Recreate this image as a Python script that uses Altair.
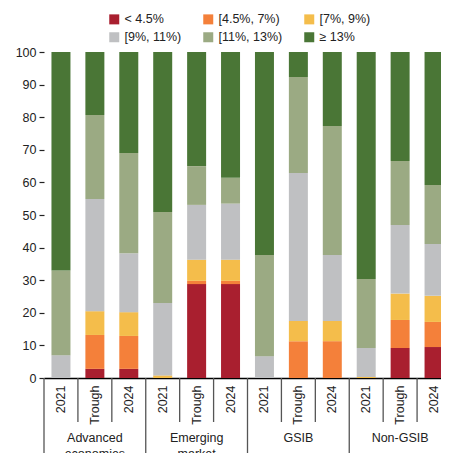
import altair as alt
import pandas as pd

FONT = "Liberation Sans, Arial, sans-serif"
FS = 12.5

groups = ["Advanced\neconomies", "Emerging\nmarket", "GSIB", "Non-GSIB"]
periods = ["2021", "Trough", "2024"]

categories = ["< 4.5%", "[4.5%, 7%)", "[7%, 9%)", "[9%, 11%)", "[11%, 13%)", "≥ 13%"]
colors = ["#a91f2f", "#f4803a", "#f4bd4b", "#bfc0c2", "#9baa83", "#4a7636"]

# values per bar, order: AE 2021, AE Trough, AE 2024, EM 2021, EM Trough, EM 2024,
# GSIB 2021, GSIB Trough, GSIB 2024, NonGSIB 2021, NonGSIB Trough, NonGSIB 2024
lt_4_5 = [0, 2.8, 2.8, 0, 28.8, 28.8, 0, 0, 0, 0, 9.2, 9.5]
r4_5_7 = [0, 10.4, 10.1, 0, 1.0, 1.0, 0, 11.3, 11.3, 0, 8.6, 7.7]
r7_9 = [0, 7.3, 7.3, 0.8, 6.5, 6.5, 0, 6.2, 6.2, 0.3, 8.1, 8.0]
r9_11 = [7.0, 34.4, 18.1, 22.2, 16.8, 17.2, 6.7, 45.4, 20.2, 8.9, 21.0, 15.9]
r11_13 = [26.0, 25.8, 30.7, 27.9, 11.9, 7.9, 31.0, 29.4, 39.6, 21.2, 19.7, 18.1]
ge_13 = [67.0, 19.3, 31.0, 49.1, 35.0, 38.6, 62.3, 7.7, 22.7, 69.6, 33.4, 40.8]
series = [lt_4_5, r4_5_7, r7_9, r9_11, r11_13, ge_13]

keys = [f"{g}|{p}" for g in groups for p in periods]

rows = []
for ci, (cat, vals) in enumerate(zip(categories, series)):
    for k, v in zip(keys, vals):
        rows.append({"key": k, "cat": cat, "order": ci, "value": v})
df = pd.DataFrame(rows)

xscale = alt.Scale(domain=keys, range=[0, 407], paddingInner=0, paddingOuter=0)

bars = alt.Chart(df).mark_bar(width=alt.RelativeBandSize(0.56)).encode(
    x=alt.X("key:N", scale=xscale,
            axis=alt.Axis(title=None, labelAngle=-90, ticks=False,
                          labelExpr="split(datum.label, '|')[1]",
                          labelPadding=7, labelFont=FONT, labelFontSize=FS,
                          labelColor="#222", domainColor="#000", domainWidth=1.5)),
    y=alt.Y("value:Q", stack="zero",
            scale=alt.Scale(domain=[0, 100], nice=False),
            axis=alt.Axis(title=None, values=list(range(0, 101, 10)), grid=False,
                          domain=False, tickSize=5, tickColor="#222", tickWidth=1.2,
                          labelFont=FONT, labelFontSize=FS, labelColor="#222",
                          labelPadding=3)),
    color=alt.Color("cat:N", scale=alt.Scale(domain=categories, range=colors),
                    legend=alt.Legend(title=None, orient="none", legendX=64, legendY=-39,
                                      columns=3, direction="horizontal",
                                      symbolType="square", symbolSize=100,
                                      symbolStrokeWidth=0, symbolOpacity=1,
                                      labelFont=FONT, labelFontSize=FS, labelColor="#222",
                                      labelOffset=4, columnPadding=20, rowPadding=5)),
    order=alt.Order("order:Q"),
)

short_df = pd.DataFrame({"key": [k for k in keys if not k.endswith("|2021")]})
long_df = pd.DataFrame({"key": [k for k in keys if k.endswith("|2021")]})

short_rules = alt.Chart(short_df).mark_rule(color="#555", strokeWidth=1.3).encode(
    x=alt.X("key:N", bandPosition=0),
    y=alt.value(326), y2=alt.value(370),
)
long_rules = alt.Chart(long_df).mark_rule(color="#555", strokeWidth=1.3).encode(
    x=alt.X("key:N", bandPosition=0),
    y=alt.value(326), y2=alt.value(420),
)

label_df = pd.DataFrame({"key": [f"{g}|Trough" for g in groups],
                         "label": groups})
group_labels = alt.Chart(label_df).mark_text(
    font=FONT, fontSize=FS, color="#222", baseline="alphabetic",
    lineBreak="\n", lineHeight=16, align="center"
).encode(
    x=alt.X("key:N"),
    y=alt.value(390),
    text="label:N",
)

chart = alt.layer(bars, short_rules, long_rules, group_labels).properties(
    width=397, height=326,
    autosize=alt.AutoSizeParams(type="none"),
    padding={"left": 36, "top": 44, "right": 0, "bottom": 80},
).configure_view(stroke=None)

chart.save("out.html", embed_options={"renderer": "svg", "actions": False})
